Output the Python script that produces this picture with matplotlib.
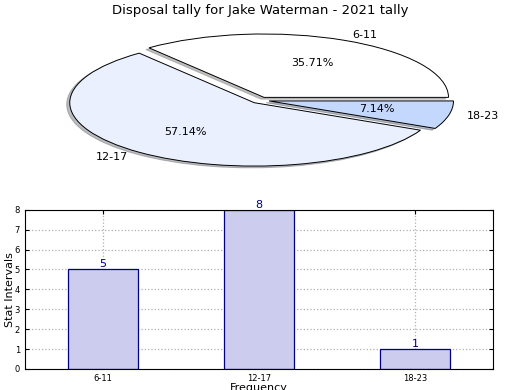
import matplotlib
matplotlib.use("Agg")
import matplotlib.pyplot as plt

# tally data
categories = ['6-11', '12-17', '18-23']
counts = [5, 8, 1]
pie_colors = ['#ffffff', '#eaf0fd', '#c4d7fd']

fig = plt.figure(figsize=(5.2, 3.9), dpi=100)

# --- pie ---
ax1 = fig.add_axes([0.131, 0.574, 0.738, 0.338])
ax1.pie(counts, labels=categories, colors=pie_colors, autopct='%1.2f%%',
        explode=(0.05, 0.05, 0.05), shadow={'ox': -0.012, 'oy': -0.02, 'shade': 0.5},
        startangle=0,
        wedgeprops={'edgecolor': 'black', 'linewidth': 0.7},
        textprops={'fontsize': 8})
ax1.set_aspect('auto')
ax1.set_xlim(-1.04, 1.04)
ax1.set_ylim(-1.04, 1.04)
ax1.set_axis_off()
fig.text(0.5, 0.973, 'Disposal tally for Jake Waterman - 2021 tally',
         ha='center', va='center', fontsize=9.5)

# --- bars ---
ax2 = fig.add_axes([0.048, 0.054, 0.9, 0.408])
x = range(len(categories))
bars = ax2.bar(x, counts, width=0.45, color='#ccccee', edgecolor='navy', linewidth=0.9)
for b, v in zip(bars, counts):
    ax2.text(b.get_x() + b.get_width() / 2, v, str(v), ha='center', va='bottom',
             color='navy', fontsize=8)
ax2.set_xticks(list(x))
ax2.set_xticklabels(categories)
ax2.set_xlim(-0.5, 2.5)
ax2.set_ylim(0, 8)
ax2.grid(True, linestyle=':', color='#b0b0b0', linewidth=0.9)
ax2.set_axisbelow(True)
ax2.tick_params(direction='in', top=True, right=True, labelsize=6, length=3)
ax2.set_ylabel('Stat Intervals', fontsize=8)
ax2.yaxis.set_label_coords(-0.021, 0.5)
ax2.set_xlabel('Frequency', fontsize=8, va='center')
ax2.xaxis.set_label_coords(0.5, -0.12)

fig.savefig('out.png', dpi=100)
